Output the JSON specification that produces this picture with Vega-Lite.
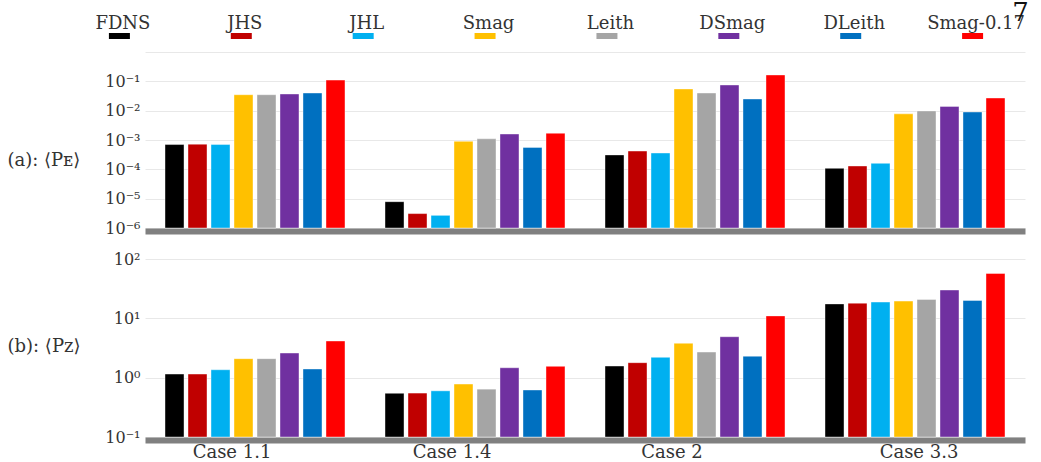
{
  "$schema": "https://vega.github.io/schema/vega-lite/v6.json",
  "background": "white",
  "padding": {"left": 7, "top": 0, "right": 5, "bottom": 5},
  "spacing": 31,
  "bounds": "flush",
  "config": {
    "view": {"stroke": null},
    "font": "DejaVu Serif",
    "bar": {"stroke": "#ffffff", "strokeWidth": 1, "strokeOpacity": 0.4},
    "axis": {
      "labelFont": "DejaVu Serif",
      "titleFont": "DejaVu Serif",
      "labelColor": "#333333",
      "titleColor": "#333333",
      "titleFontWeight": "normal",
      "ticks": false,
      "tickSize": 0
    }
  },
  "datasets": {
    "models": [
      {"model": "FDNS"}, {"model": "JHS"}, {"model": "JHL"}, {"model": "Smag"},
      {"model": "Leith"}, {"model": "DSmag"}, {"model": "DLeith"}, {"model": "Smag-0.17"}
    ],
    "bars": [
      {"case": "Case 1.1", "model": "FDNS", "pe": 0.0007, "pz": 1.15},
      {"case": "Case 1.1", "model": "JHS", "pe": 0.00072, "pz": 1.15},
      {"case": "Case 1.1", "model": "JHL", "pe": 0.0007, "pz": 1.36},
      {"case": "Case 1.1", "model": "Smag", "pe": 0.035, "pz": 2.09},
      {"case": "Case 1.1", "model": "Leith", "pe": 0.035, "pz": 2.09},
      {"case": "Case 1.1", "model": "DSmag", "pe": 0.037, "pz": 2.6},
      {"case": "Case 1.1", "model": "DLeith", "pe": 0.04, "pz": 1.4},
      {"case": "Case 1.1", "model": "Smag-0.17", "pe": 0.11, "pz": 4.15},
      {"case": "Case 1.4", "model": "FDNS", "pe": 0.0000079, "pz": 0.545},
      {"case": "Case 1.4", "model": "JHS", "pe": 0.0000031, "pz": 0.55},
      {"case": "Case 1.4", "model": "JHL", "pe": 0.0000027, "pz": 0.6},
      {"case": "Case 1.4", "model": "Smag", "pe": 0.0009, "pz": 0.78},
      {"case": "Case 1.4", "model": "Leith", "pe": 0.0011, "pz": 0.64},
      {"case": "Case 1.4", "model": "DSmag", "pe": 0.0016, "pz": 1.47},
      {"case": "Case 1.4", "model": "DLeith", "pe": 0.00056, "pz": 0.62},
      {"case": "Case 1.4", "model": "Smag-0.17", "pe": 0.0017, "pz": 1.55},
      {"case": "Case 2", "model": "FDNS", "pe": 0.00031, "pz": 1.57},
      {"case": "Case 2", "model": "JHS", "pe": 0.00042, "pz": 1.79},
      {"case": "Case 2", "model": "JHL", "pe": 0.00036, "pz": 2.2},
      {"case": "Case 2", "model": "Smag", "pe": 0.055, "pz": 3.8},
      {"case": "Case 2", "model": "Leith", "pe": 0.04, "pz": 2.7},
      {"case": "Case 2", "model": "DSmag", "pe": 0.075, "pz": 4.9},
      {"case": "Case 2", "model": "DLeith", "pe": 0.025, "pz": 2.3},
      {"case": "Case 2", "model": "Smag-0.17", "pe": 0.165, "pz": 11},
      {"case": "Case 3.3", "model": "FDNS", "pe": 0.000108, "pz": 17.5},
      {"case": "Case 3.3", "model": "JHS", "pe": 0.00013, "pz": 18},
      {"case": "Case 3.3", "model": "JHL", "pe": 0.00016, "pz": 18.8},
      {"case": "Case 3.3", "model": "Smag", "pe": 0.0078, "pz": 19.5},
      {"case": "Case 3.3", "model": "Leith", "pe": 0.0098, "pz": 20.8},
      {"case": "Case 3.3", "model": "DSmag", "pe": 0.014, "pz": 30},
      {"case": "Case 3.3", "model": "DLeith", "pe": 0.009, "pz": 20},
      {"case": "Case 3.3", "model": "Smag-0.17", "pe": 0.027, "pz": 57}
    ]
  },
  "vconcat": [
    {
      "width": 880,
      "height": 10,
      "data": {"name": "models"},
      "layer": [
        {
          "mark": {"type": "tick", "orient": "horizontal", "size": 21, "thickness": 6, "xOffset": -39, "yOffset": 20, "opacity": 1},
          "encoding": {
            "x": {"field": "model", "type": "nominal", "axis": null,
              "scale": {"type": "point", "padding": 0.11,
                "domain": ["FDNS", "JHS", "JHL", "Smag", "Leith", "DSmag", "DLeith", "Smag-0.17"]}},
            "color": {"field": "model", "type": "nominal", "legend": null,
              "scale": {"domain": ["FDNS", "JHS", "JHL", "Smag", "Leith", "DSmag", "DLeith", "Smag-0.17"],
                "range": ["#000000", "#C00000", "#00B0F0", "#FFC000", "#A5A5A5", "#7030A0", "#0070C0", "#FF0000"]}}
          }
        },
        {
          "mark": {"type": "text", "dx": -35.5, "dy": 13, "fontSize": 18, "baseline": "alphabetic", "color": "#333333"},
          "encoding": {
            "x": {"field": "model", "type": "nominal", "axis": null},
            "text": {"field": "model"}
          }
        },
        {
          "data": {"values": [{"page": "7"}]},
          "mark": {"type": "text", "dx": 9, "dy": 5, "fontSize": 26, "baseline": "alphabetic", "color": "#111111"},
          "encoding": {
            "x": {"datum": "Smag-0.17"},
            "text": {"field": "page"}
          }
        }
      ]
    },
    {
      "width": 880,
      "height": 176,
      "data": {"name": "bars"},
      "mark": {"type": "bar"},
      "encoding": {
        "x": {"field": "case", "type": "nominal", "title": null,
          "scale": {"paddingInner": 0, "paddingOuter": 0},
          "axis": {"labels": false, "domainColor": "#808080", "domainWidth": 6, "offset": 3, "grid": false}},
        "xOffset": {"field": "model", "type": "nominal",
          "scale": {"domain": ["FDNS", "JHS", "JHL", "Smag", "Leith", "DSmag", "DLeith", "Smag-0.17"],
            "paddingInner": 0.174, "paddingOuter": 0.87}},
        "y": {"field": "pe", "type": "quantitative", "stack": null,
          "scale": {"type": "log", "domain": [0.000001, 1], "nice": false},
          "axis": {
            "title": "(a): ⟨Pᴇ⟩",
            "titleAngle": 0, "titleAlign": "left", "titleBaseline": "middle",
            "titleX": -138, "titleY": 108, "titleFontSize": 18,
            "values": [0.000001, 0.00001, 0.0001, 0.001, 0.01, 0.1, 1],
            "labelExpr": "['10⁻⁶','10⁻⁵','10⁻⁴','10⁻³','10⁻²','10⁻¹',''][round(log(datum.value)/LN10)+6]",
            "labelFontSize": 16, "labelPadding": 5,
            "domain": false, "grid": true, "gridColor": "#e8e8e8", "gridWidth": 1
          }},
        "color": {"field": "model", "type": "nominal", "legend": null}
      }
    },
    {
      "width": 880,
      "height": 178,
      "data": {"name": "bars"},
      "mark": {"type": "bar"},
      "encoding": {
        "x": {"field": "case", "type": "nominal", "title": null,
          "scale": {"paddingInner": 0, "paddingOuter": 0},
          "axis": {"labelAngle": 0, "labelFontSize": 18, "labelPadding": 3,
            "labelOffset": {"condition": {"test": "datum.value === 'Case 3.3'", "value": 4}, "value": -23},
            "domainColor": "#808080", "domainWidth": 6, "offset": 3, "grid": false}},
        "xOffset": {"field": "model", "type": "nominal",
          "scale": {"domain": ["FDNS", "JHS", "JHL", "Smag", "Leith", "DSmag", "DLeith", "Smag-0.17"],
            "paddingInner": 0.174, "paddingOuter": 0.87}},
        "y": {"field": "pz", "type": "quantitative", "stack": null,
          "scale": {"type": "log", "domain": [0.1, 100], "nice": false},
          "axis": {
            "title": "(b): ⟨Pᴢ⟩",
            "titleAngle": 0, "titleAlign": "left", "titleBaseline": "middle",
            "titleX": -138, "titleY": 87, "titleFontSize": 18,
            "values": [0.1, 1, 10, 100],
            "labelExpr": "['10⁻¹','10⁰','10¹','10²'][round(log(datum.value)/LN10)+1]",
            "labelFontSize": 16, "labelPadding": 5,
            "domain": false, "grid": true, "gridColor": "#e8e8e8", "gridWidth": 1
          }},
        "color": {"field": "model", "type": "nominal", "legend": null}
      }
    }
  ]
}
